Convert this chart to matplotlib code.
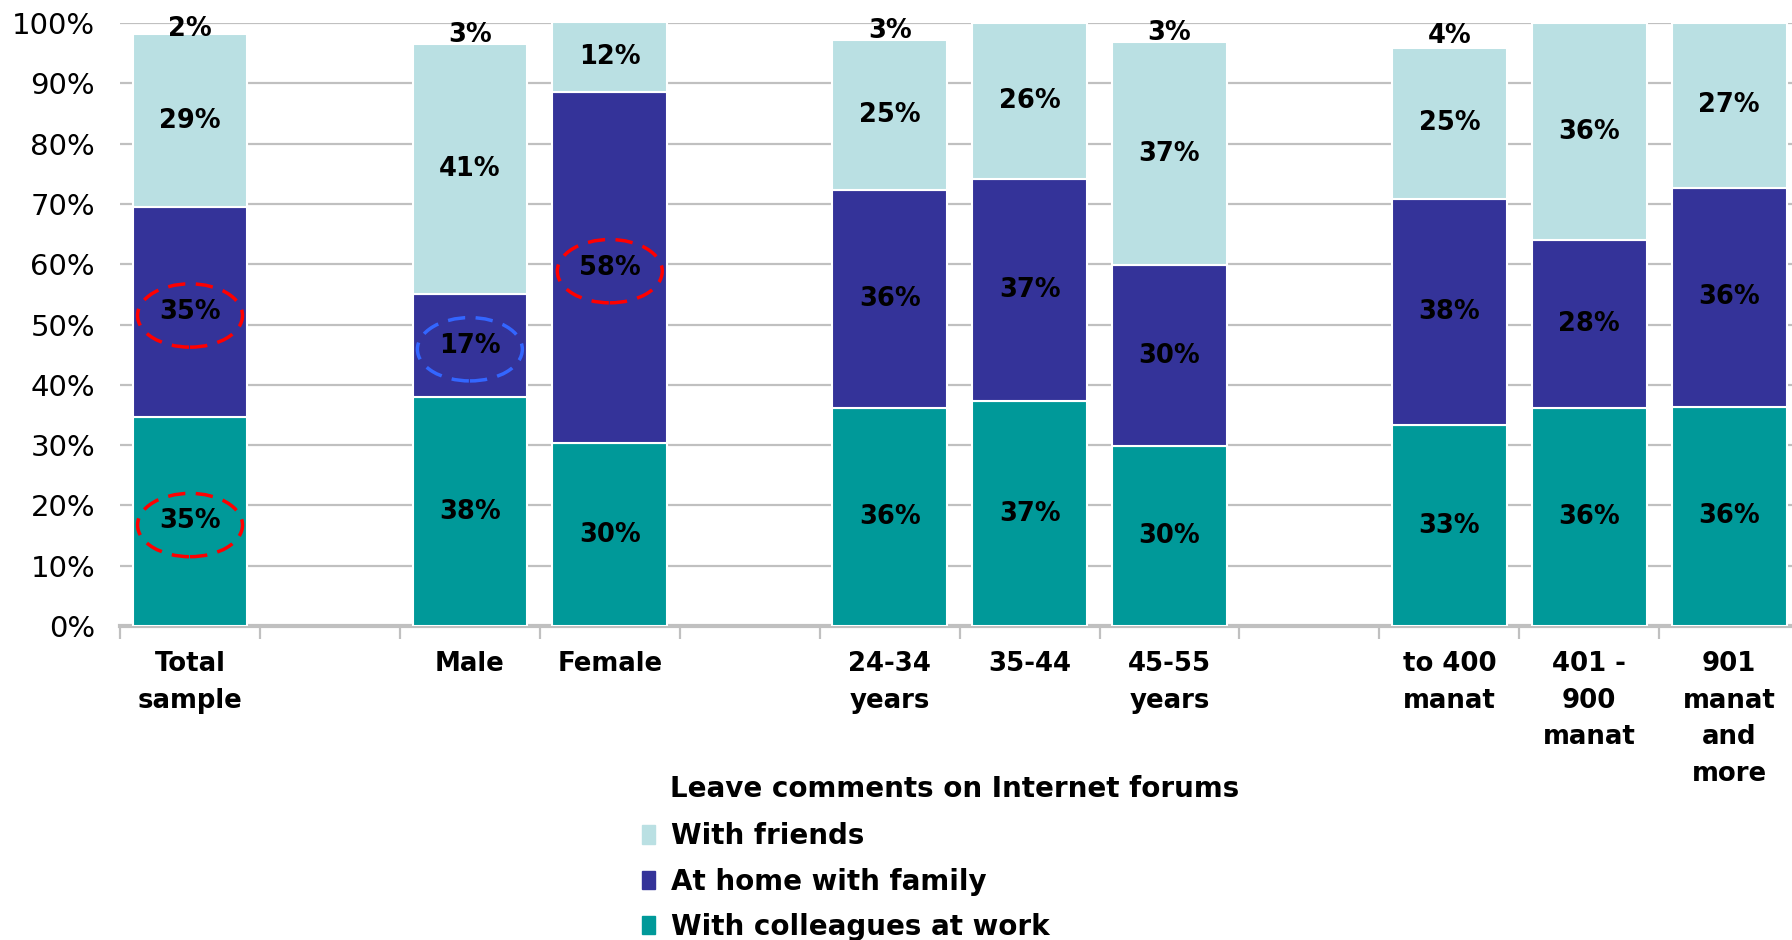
import numpy as np
import matplotlib.pyplot as plt
from matplotlib.patches import Ellipse, Patch

# categories, split into groups (an empty slot sits between groups)
groups = [["Total\nsample"],
          ["Male", "Female"],
          ["24-34\nyears", "35-44", "45-55\nyears"],
          ["to 400\nmanat", "401 -\n900\nmanat", "901\nmanat\nand\nmore"]]

colleagues = [34.7, 37.9, 30.3, 36.2, 37.3, 29.9, 33.3, 36.2, 36.4]
family = [34.8, 17.2, 58.3, 36.1, 36.9, 29.9, 37.6, 27.8, 36.3]
friends = [28.6, 41.4, 11.6, 24.9, 25.8, 37.0, 25.0, 36.0, 27.3]
# share left out of the bars, only printed above them
other = [2, 3, 0, 3, 0, 3, 4, 0, 0]

# highlighted values: (category index, series, colour)
highlights = [(0, "family", "#FF0000"), (0, "colleagues", "#FF0000"),
              (2, "family", "#FF0000"), (1, "family", "#3366FF")]

c_friends = "#BAE0E3"
c_family = "#343399"
c_colleagues = "#009999"

labels = []
pos = []
slot = 0
for g in groups:
    for name in g:
        labels.append(name)
        pos.append(slot)
        slot += 1
    slot += 1
pos = np.array(pos)
nslots = slot - 1   # number of slots actually used

fig = plt.figure(figsize=(17.92, 9.40), dpi=100)
ax = fig.add_axes([0.067, 0.334, 0.937, 0.6415])

w = 0.82
col = np.array(colleagues)
fam = np.array(family)
fri = np.array(friends)
oth = np.array(other)

b1 = ax.bar(pos, col, w, color=c_colleagues, edgecolor="white", linewidth=1.5, zorder=3)
b2 = ax.bar(pos, fam, w, bottom=col, color=c_family, edgecolor="white", linewidth=1.5, zorder=3)
b3 = ax.bar(pos, fri, w, bottom=col + fam, color=c_friends, edgecolor="white", linewidth=1.5, zorder=3)
b4 = ax.bar(pos, oth, w, bottom=col + fam + fri, color="none", linewidth=0, zorder=3)

lab_kw = dict(label_type="center", fontsize=18.5, fontweight="bold", color="black")
ax.bar_label(b1, labels=["%d%%" % round(v) for v in col], **lab_kw)
ax.bar_label(b2, labels=["%d%%" % round(v) for v in fam], **lab_kw)
ax.bar_label(b3, labels=["%d%%" % round(v) for v in fri], **lab_kw)
ax.bar_label(b4, labels=["%d%%" % v if v > 0 else "" for v in oth], **lab_kw)

# dashed circles around highlighted values
centers = {"colleagues": col / 2, "family": col + fam / 2}
for i, series, c in highlights:
    e = Ellipse((pos[i], centers[series][i] - 0.6), 0.75, 10.5, fill=False,
                edgecolor=c, linewidth=2.5, linestyle=(0, (5, 3)), zorder=5)
    ax.add_patch(e)

ax.set_xlim(-0.5, nslots - 0.5)
ax.set_ylim(0, 100)
ax.set_yticks(np.arange(0, 101, 10))
ax.set_yticklabels(["%d%%" % v for v in range(0, 101, 10)], fontsize=21)
ax.tick_params(axis="y", length=0, pad=18)
ax.yaxis.grid(True, color="#C0C0C0", linewidth=1.6, zorder=0)
ax.set_axisbelow(True)

ax.set_xticks(pos)
ax.set_xticklabels(labels, fontsize=18.7, fontweight="bold", linespacing=1.53)
ax.set_xticks(np.arange(-0.5, nslots, 1), minor=True)
ax.tick_params(axis="x", which="major", length=0, pad=18)
ax.tick_params(axis="x", which="minor", length=9, width=1.6, color="#C0C0C0")

for s in ["top", "right", "left"]:
    ax.spines[s].set_visible(False)
ax.spines["bottom"].set_color("#C0C0C0")
ax.spines["bottom"].set_linewidth(3)

fig.text(0.374, 0.161, "Leave comments on Internet forums", fontsize=20,
         fontweight="bold", va="center", ha="left")
handles = [Patch(color=c_friends), Patch(color=c_family), Patch(color=c_colleagues)]
fig.legend(handles, ["With friends", "At home with family", "With colleagues at work"],
           loc="upper left", bbox_to_anchor=(0.358, 0.125), frameon=False,
           prop={"size": 20, "weight": "bold"}, borderpad=0, borderaxespad=0,
           handlelength=0.5, handleheight=0.65, handletextpad=0.55, labelspacing=0.62)

fig.savefig("out.png", dpi=100)
